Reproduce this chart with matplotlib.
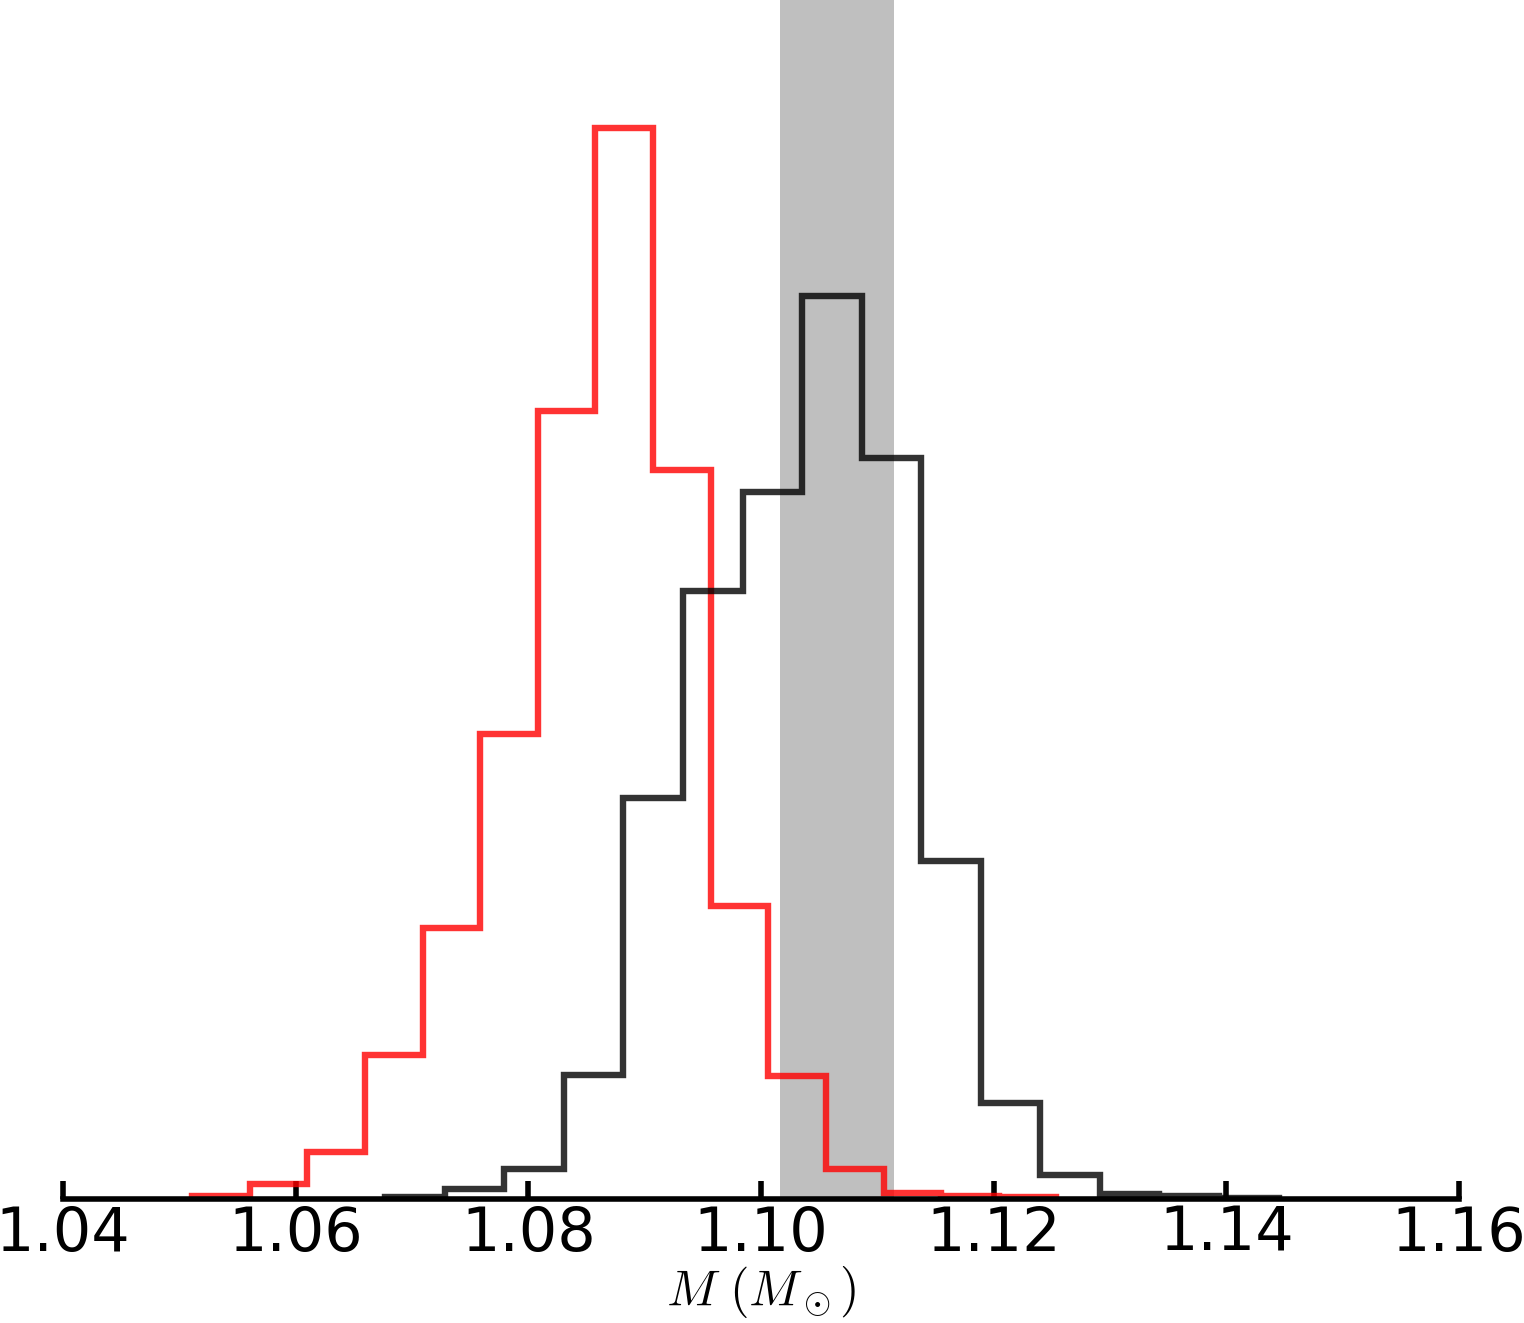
import numpy as np
import matplotlib
matplotlib.use("Agg")
import matplotlib.pyplot as plt

plt.rcParams['mathtext.fontset'] = 'cm'

# histogram heights (relative counts)
red_counts = [3, 15, 47, 144, 271, 465, 787, 1070, 729, 293, 123, 30, 6, 3, 2]
red_lo, red_hi = 1.0511, 1.1254

black_counts = [2, 10, 30, 124, 401, 608, 707, 902, 740, 338, 96, 24, 5, 3, 1]
black_lo, black_hi = 1.0677, 1.1445

# shaded reference interval
band = [1.1016, 1.1114]

xticks = [1.04, 1.06, 1.08, 1.10, 1.12, 1.14, 1.16]

fig = plt.figure(figsize=(15.24, 13.23), dpi=100)
ax = fig.add_axes([0.0413, 0.0935, 0.916, 0.9065])

ax.axvspan(band[0], band[1], color='gray', alpha=0.5, lw=0, zorder=0)

red_edges = np.linspace(red_lo, red_hi, len(red_counts) + 1)
black_edges = np.linspace(black_lo, black_hi, len(black_counts) + 1)
ax.stairs(red_counts, red_edges, color='red', alpha=0.8, lw=4.6, zorder=2)
ax.stairs(black_counts, black_edges, color='black', alpha=0.8, lw=4.6, zorder=2)

ax.set_xlim(1.04, 1.16)
ax.set_ylim(0, 1198)

for s in ['top', 'left', 'right']:
    ax.spines[s].set_visible(False)
ax.spines['bottom'].set_linewidth(4)
ax.spines['bottom'].set_zorder(3)
ax.set_yticks([])
ax.set_xticks(xticks)
ax.set_xticklabels(['%.2f' % t for t in xticks])
ax.tick_params(axis='x', direction='in', length=13, width=4, labelsize=43.5, pad=4)

ax.set_xlabel(r'$M\ (M_\odot)$', fontsize=36, labelpad=0)

fig.savefig('out.png', dpi=100)
